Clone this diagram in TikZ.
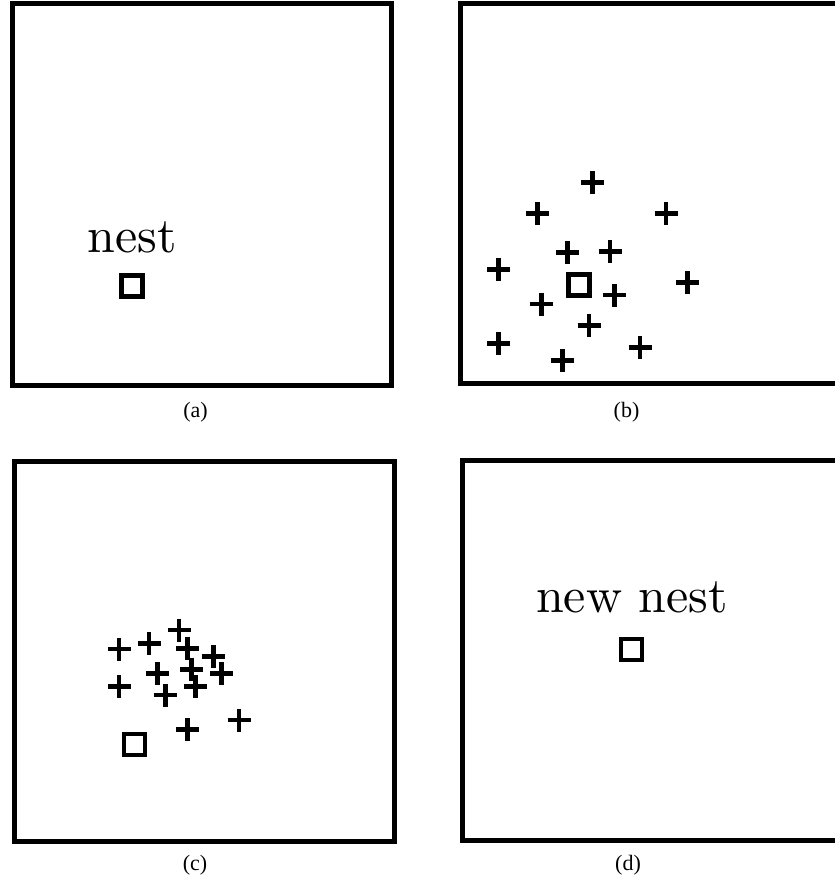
\documentclass[tikz,border=0pt]{standalone}
\usepackage{fontspec}
\newfontfamily\capfont{Liberation Serif}
\newfontfamily\lmten{lmroman10-regular.otf}
\begin{document}
\begin{tikzpicture}[x=1pt,y=-1pt,
  panel/.style={draw=black,line width=5pt},
  nestsq/.style={draw=black,line width=4.5pt,minimum size=21pt,inner sep=0pt,rectangle},
  lbl/.style={inner sep=0pt,anchor=base,font=\lmten\fontsize{50}{60}\selectfont},
  captext/.style={inner sep=0pt,anchor=base,font=\capfont\fontsize{22}{26}\selectfont},
  plusmk/.pic={\draw[line width=4.5pt] (-11.5,0)--(11.5,0) (0,-11.5)--(0,11.5);}
]
\useasboundingbox (0,0) rectangle (835,884);
\fill[white] (0,0) rectangle (835,884);
% panels
\draw[panel] (12.5,3.5) rectangle (391.5,385);
\draw[panel] (460.5,3) rectangle (837,383);
\draw[panel] (14.5,461.5) rectangle (394.5,841.5);
\draw[panel] (462,460) rectangle (842,840.5);
% (a)
\node[lbl] (ta) at (132.5,252) {nest};
\node[nestsq] (na) at (132,286) {};
\node[captext] (ca) at (195.5,417) {(a)};
% (b)
\node[nestsq] (nb) at (579,285) {};
\foreach \x/\y in {592.7/182.7, 537.3/213.3, 666/213.3, 567.3/252.3, 610/251.7,
  498.7/269.3, 687.7/282.7, 614.3/295, 541.7/304, 589/325.7, 498.7/343.3,
  640/347.7, 562.7/360.7}
  \pic at (\x,\y) {plusmk};
\node[captext] (cb) at (626.5,417) {(b)};
% (c)
\node[nestsq] (nc) at (134.5,744.5) {};
\foreach \x/\y in {179/630, 149/643.3, 119/649, 187.3/648.3, 213.3/656.7,
  191.7/669.3, 157.3/673.3, 221.7/673.3, 119/686.7, 195.7/686.7, 165.7/695,
  239/720, 187.7/729.3}
  \pic at (\x,\y) {plusmk};
\node[captext] (cc) at (195,870) {(c)};
% (d)
\node[lbl] (td) at (632,612) {new nest};
\node[nestsq] (nd) at (631.5,649.5) {};
\node[captext] (cd) at (628,870) {(d)};
\end{tikzpicture}
\end{document}
